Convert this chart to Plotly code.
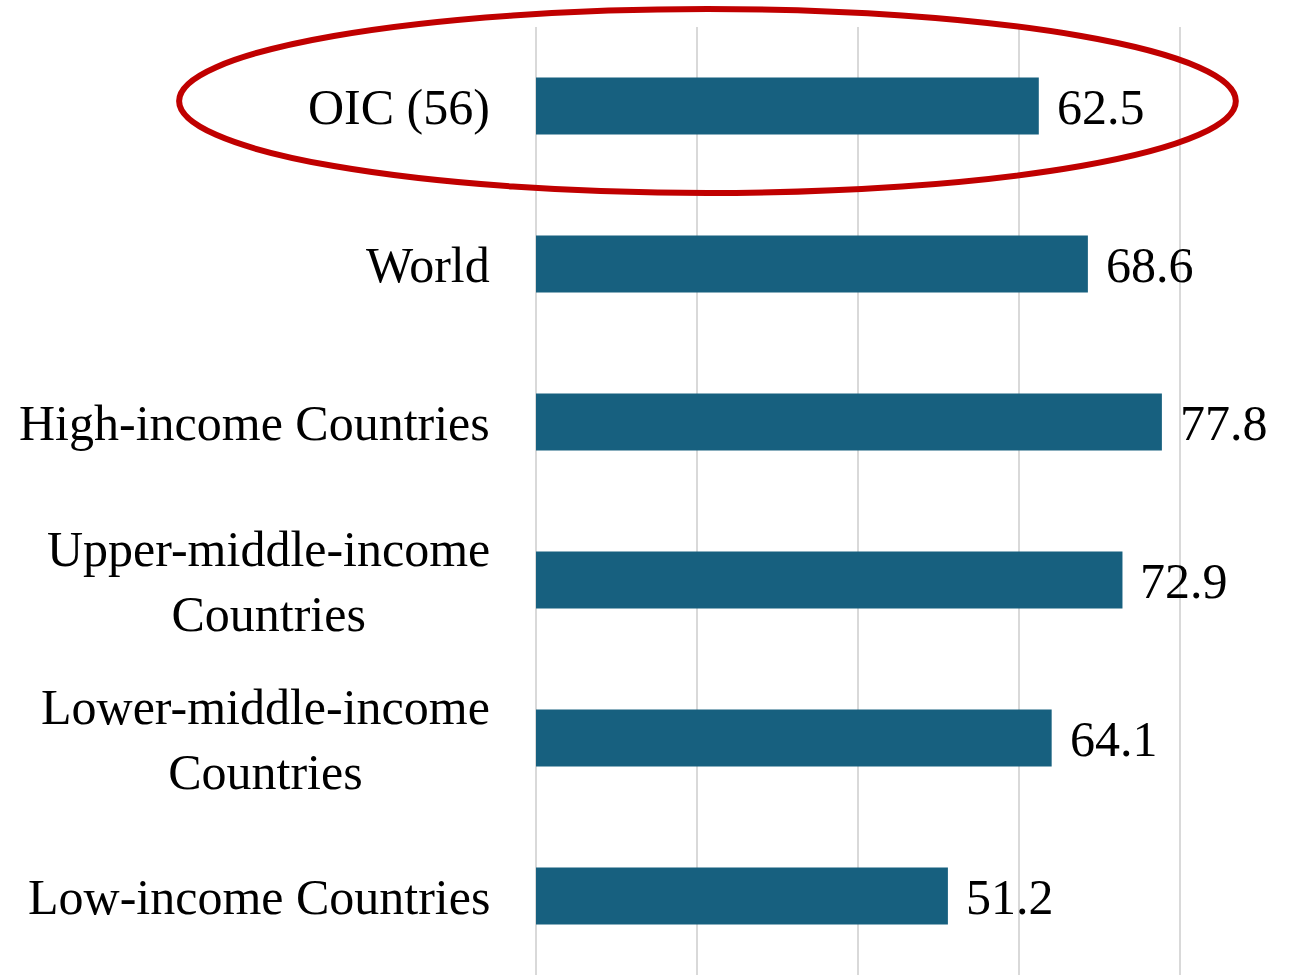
import plotly.graph_objects as go

categories = ["OIC (56)", "World", "High-income Countries",
              "Upper-middle-income<br>Countries", "Lower-middle-income<br>Countries",
              "Low-income Countries"]
values = [62.5, 68.6, 77.8, 72.9, 64.1, 51.2]
value_labels = ["62.5", "68.6", "77.8", "72.9", "64.1", "51.2"]

FONT = "Liberation Serif"
BAR = "#17607f"
GRID = "#d9d9d9"

fig = go.Figure()
fig.add_trace(go.Bar(
    x=values, y=categories, orientation="h",
    marker=dict(color=BAR, line=dict(width=0)),
    hoverinfo="skip",
))

annotations = []
for c, v, t in zip(categories, values, value_labels):
    annotations.append(dict(x=v, y=c, xref="x", yref="y", text=t, showarrow=False,
                            xanchor="left", yanchor="middle", xshift=16, yshift=-1,
                            font=dict(family=FONT, size=50, color="black")))
    annotations.append(dict(x=0, y=c, xref="x", yref="y", text=c, showarrow=False,
                            xanchor="right", yanchor="middle", xshift=-44, yshift=-1,
                            align="center",
                            font=dict(family=FONT, size=50, color="black")))

fig.update_layout(
    width=1296, height=975,
    margin=dict(l=536, r=114, t=27, b=0),
    paper_bgcolor="white", plot_bgcolor="white",
    bargap=0.64,
    showlegend=False,
    xaxis=dict(range=[0, 80.3], tickvals=[20, 40, 60, 80], showgrid=True, gridcolor=GRID,
               gridwidth=2, zeroline=True, zerolinecolor=GRID, zerolinewidth=2,
               showticklabels=False, showline=False, fixedrange=True),
    yaxis=dict(autorange="reversed", showticklabels=False, showgrid=False, zeroline=False,
               showline=False, ticks=""),
    annotations=annotations,
    shapes=[dict(type="circle", xref="paper", yref="paper",
                 x0=(178 - 536) / 648, x1=(1238 - 536) / 648,
                 y0=(975 - 193) / 948, y1=(975 - 9) / 948,
                 line=dict(color="#c00000", width=6), fillcolor="rgba(0,0,0,0)")],
)

fig.write_html("out.html")
